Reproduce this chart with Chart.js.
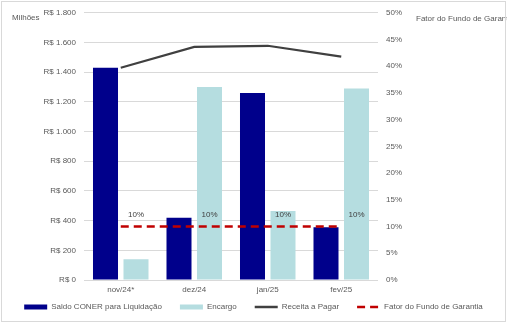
<!DOCTYPE html>
<html>
<head>
<meta charset="utf-8">
<script src="https://cdn.jsdelivr.net/npm/chart.js@4.4.1/dist/chart.umd.min.js"></script>
<style>
  html, body { margin: 0; padding: 0; background: #fff; }
  #wrap { position: relative; width: 507px; height: 324px; }
  #frame { position: absolute; left: 1px; top: 1px; width: 503px; height: 319px; border: 1px solid #d9d9d9; pointer-events: none; }
</style>
</head>
<body>
<div id="wrap">
  <canvas id="c" width="507" height="324"></canvas>
  <div id="frame"></div>
</div>
<script>
// dados (R$ milhões / %)
const meses = ['nov/24*', 'dez/24', 'jan/25', 'fev/25'];
const saldoConer = [1430, 420, 1260, 355];
const encargo = [140, 1300, 465, 1290];
const receitaPagar = [1430, 1570, 1578, 1505];
const fatorFundo = [10, 10, 10, 10];

const txtColor = '#595959';
const fontFam = '"Liberation Sans", Arial, sans-serif';

function fmtBRL(v) {
  return 'R$ ' + String(v).replace(/\B(?=(\d{3})+(?!\d))/g, '.');
}

// rótulos "10%" e títulos dos eixos (desenhados na horizontal, como no Excel)
const extras = {
  id: 'extras',
  beforeLayout(chart) {
    // legenda mais baixa: mantém o espaçamento horizontal, reduz a altura
    const lg = chart.legend;
    if (lg && !lg._patched) {
      const fit = lg.fit;
      lg.fit = function () { fit.call(this); this.height = 27; };
      lg._patched = true;
    }
  },
  afterLayout(chart) {
    const lg = chart.legend;
    if (lg) { lg.top -= 12; lg.bottom -= 12; }
  },
  afterDatasetsDraw(chart) {
    const ctx = chart.ctx;
    const y1 = chart.scales.y1;
    const encMeta = chart.getDatasetMeta(1);
    ctx.save();
    ctx.font = '8px ' + fontFam;
    ctx.fillStyle = '#404040';
    ctx.textAlign = 'center';
    ctx.textBaseline = 'middle';
    fatorFundo.forEach((v, i) => {
      const el = encMeta.data[i];
      ctx.fillText(v + '%', el.x, y1.getPixelForValue(v) - 12);
    });
    ctx.restore();
  },
  afterDraw(chart) {
    const ctx = chart.ctx;
    const top = chart.chartArea.top;
    ctx.save();
    ctx.font = '8px ' + fontFam;
    ctx.fillStyle = txtColor;
    ctx.textBaseline = 'middle';
    ctx.textAlign = 'left';
    ctx.fillText('Milhões', 12, top + 5);
    ctx.fillText('Fator do Fundo de Garantia', 416, top + 6);
    ctx.restore();
  }
};

new Chart(document.getElementById('c').getContext('2d'), {
  data: {
    labels: meses,
    datasets: [
      { type: 'bar', label: 'Saldo CONER para Liquidação', data: saldoConer,
        backgroundColor: '#00008b', yAxisID: 'y', order: 2,
        categoryPercentage: 0.83, barPercentage: 0.82 },
      { type: 'bar', label: 'Encargo', data: encargo,
        backgroundColor: '#b5dde0', yAxisID: 'y', order: 2,
        categoryPercentage: 0.83, barPercentage: 0.82 },
      { type: 'line', label: 'Receita a Pagar', data: receitaPagar,
        borderColor: '#404040', borderWidth: 2.25, pointRadius: 0, tension: 0,
        yAxisID: 'y', order: 1 },
      { type: 'line', label: 'Fator do Fundo de Garantia', data: fatorFundo,
        borderColor: '#c00000', borderWidth: 2.5, borderDash: [8, 5], pointRadius: 0,
        yAxisID: 'y1', order: 0 }
    ]
  },
  options: {
    responsive: false,
    animation: false,
    layout: { padding: { top: 6, left: 0, right: 0, bottom: 0 } },
    plugins: {
      tooltip: { enabled: false },
      legend: {
        position: 'bottom',
        labels: {
          font: { size: 8, family: fontFam },
          color: txtColor,
          usePointStyle: true,
          pointStyleWidth: 23,
          boxHeight: 5,
          padding: 18,
          generateLabels(chart) {
            return chart.data.datasets.map((ds, i) => {
              const isLine = ds.type === 'line';
              return {
                text: ds.label,
                datasetIndex: i,
                fillStyle: isLine ? ds.borderColor : ds.backgroundColor,
                strokeStyle: isLine ? ds.borderColor : ds.backgroundColor,
                lineWidth: isLine ? 2.5 : 0,
                lineDash: ds.borderDash || [],
                pointStyle: isLine ? 'line' : 'rect',
                fontColor: txtColor,
                hidden: false
              };
            });
          }
        }
      }
    },
    scales: {
      x: {
        grid: { display: false, drawTicks: false },
        border: { display: false },
        ticks: { color: txtColor, font: { size: 8, family: fontFam }, padding: 5 },
        afterFit(s) { s.height = 17; }
      },
      y: {
        position: 'left', min: 0, max: 1800,
        grid: { color: '#d9d9d9', drawTicks: false },
        border: { display: false },
        ticks: { stepSize: 200, color: txtColor, font: { size: 8, family: fontFam }, padding: 8,
                 callback: v => fmtBRL(v) },
        afterFit(s) { s.width = 84; }
      },
      y1: {
        position: 'right', min: 0, max: 50,
        grid: { display: false, drawTicks: false },
        border: { display: false },
        ticks: { stepSize: 5, color: txtColor, font: { size: 8, family: fontFam }, padding: 8,
                 callback: v => v + '%' },
        afterFit(s) { s.width = 129; }
      }
    }
  },
  plugins: [extras]
});
</script>
</body>
</html>
